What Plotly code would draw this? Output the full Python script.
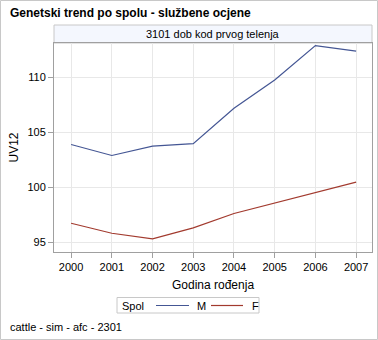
import plotly.graph_objects as go

years = [2000, 2001, 2002, 2003, 2004, 2005, 2006, 2007]
uv12_m = [103.9, 102.9, 103.75, 103.97, 107.18, 109.75, 112.87, 112.36]
uv12_f = [96.76, 95.85, 95.34, 96.34, 97.64, 98.61, 99.55, 100.49]
series_names = ["M", "F"]
y_ticks = [95, 100, 105, 110]

W, H = 378, 340
L, R, T, B = 54, 6, 43, 88
PW, PH = W - L - R, H - T - B

def px_x(x):
    return (x - L) / PW

def px_y(y):
    return (H - B - y) / PH

FONT = "Liberation Sans, Arial, sans-serif"
COLORS = ["#445694", "#A23A2E"]

fig = go.Figure()
for name, vals, col in zip(series_names, [uv12_m, uv12_f], COLORS):
    fig.add_trace(go.Scatter(x=years, y=vals, mode="lines", name=name,
                             line=dict(color=col, width=1.2)))

fig.update_layout(
    width=W, height=H,
    margin=dict(l=L, r=R, t=T, b=B, pad=0),
    paper_bgcolor="white", plot_bgcolor="white",
    font=dict(family=FONT, size=11, color="black"),
    showlegend=False,
)

fig.update_xaxes(
    range=[1999.58, 2007.39],
    tickmode="array", tickvals=years, ticktext=[str(y) for y in years],
    ticks="outside", ticklen=5, tickcolor="#A0A0A0",
    showline=True, linecolor="#A0A0A0", mirror=True, linewidth=1,
    showgrid=True, gridcolor="#E8E8E8", gridwidth=1,
    zeroline=False,
    tickfont=dict(family=FONT, size=11),
)
fig.update_yaxes(
    range=[94.15, 113.1],
    tickmode="array", tickvals=y_ticks, ticktext=[str(v) for v in y_ticks],
    ticks="outside", ticklen=5, tickcolor="#A0A0A0",
    showline=True, linecolor="#A0A0A0", mirror=True, linewidth=1,
    showgrid=True, gridcolor="#E8E8E8", gridwidth=1,
    zeroline=False,
    tickfont=dict(family=FONT, size=11),
)

shapes = [
    # header strip
    dict(type="rect", xref="paper", yref="paper",
         x0=0, x1=1, y0=1, y1=px_y(25),
         fillcolor="#F4F7FE", line=dict(color="#C8C8C8", width=1), layer="below"),
    # outer frame
    dict(type="rect", xref="paper", yref="paper",
         x0=px_x(0.5), x1=px_x(W - 0.5), y0=px_y(H - 0.5), y1=px_y(0.5),
         fillcolor="rgba(0,0,0,0)", line=dict(color="#C8C8C8", width=1)),
    # legend box
    dict(type="rect", xref="paper", yref="paper",
         x0=px_x(117), x1=px_x(259), y0=px_y(313), y1=px_y(297.5),
         fillcolor="white", line=dict(color="#C8C8C8", width=1)),
]

annotations = [
    dict(text="<b>Genetski trend po spolu - službene ocjene</b>", xref="paper", yref="paper",
         x=px_x(8), y=px_y(13), xanchor="left", yanchor="middle", showarrow=False,
         font=dict(family=FONT, size=12, color="black")),
    dict(text="3101 dob kod prvog telenja", xref="paper", yref="paper",
         x=0.5, y=px_y(34), xanchor="center", yanchor="middle", showarrow=False,
         font=dict(family=FONT, size=11, color="black")),
    dict(text="UV12", xref="paper", yref="paper",
         x=px_x(13), y=px_y(147.5), xanchor="center", yanchor="middle", showarrow=False,
         textangle=-90, font=dict(family=FONT, size=12, color="black")),
    dict(text="Godina rođenja", xref="paper", yref="paper",
         x=px_x(213), y=px_y(285), xanchor="center", yanchor="middle", showarrow=False,
         font=dict(family=FONT, size=12, color="black")),
    dict(text="cattle - sim - afc - 2301", xref="paper", yref="paper",
         x=px_x(8), y=px_y(327), xanchor="left", yanchor="middle", showarrow=False,
         font=dict(family=FONT, size=11, color="black")),
    dict(text="Spol", xref="paper", yref="paper",
         x=px_x(120), y=px_y(305.5), xanchor="left", yanchor="middle", showarrow=False,
         font=dict(family=FONT, size=11, color="black")),
]

# legend entries
leg_line_x = [(156, 189), (211, 243)]
leg_text_x = [195, 250]
for name, col, (lx0, lx1), tx in zip(series_names, COLORS, leg_line_x, leg_text_x):
    shapes.append(dict(type="line", xref="paper", yref="paper",
                       x0=px_x(lx0), x1=px_x(lx1), y0=px_y(305.5), y1=px_y(305.5),
                       line=dict(color=col, width=1.2)))
    annotations.append(dict(text=name, xref="paper", yref="paper",
                            x=px_x(tx), y=px_y(305.5), xanchor="left", yanchor="middle",
                            showarrow=False, font=dict(family=FONT, size=11, color="black")))

fig.update_layout(shapes=shapes, annotations=annotations)

fig.write_html("out.html")
